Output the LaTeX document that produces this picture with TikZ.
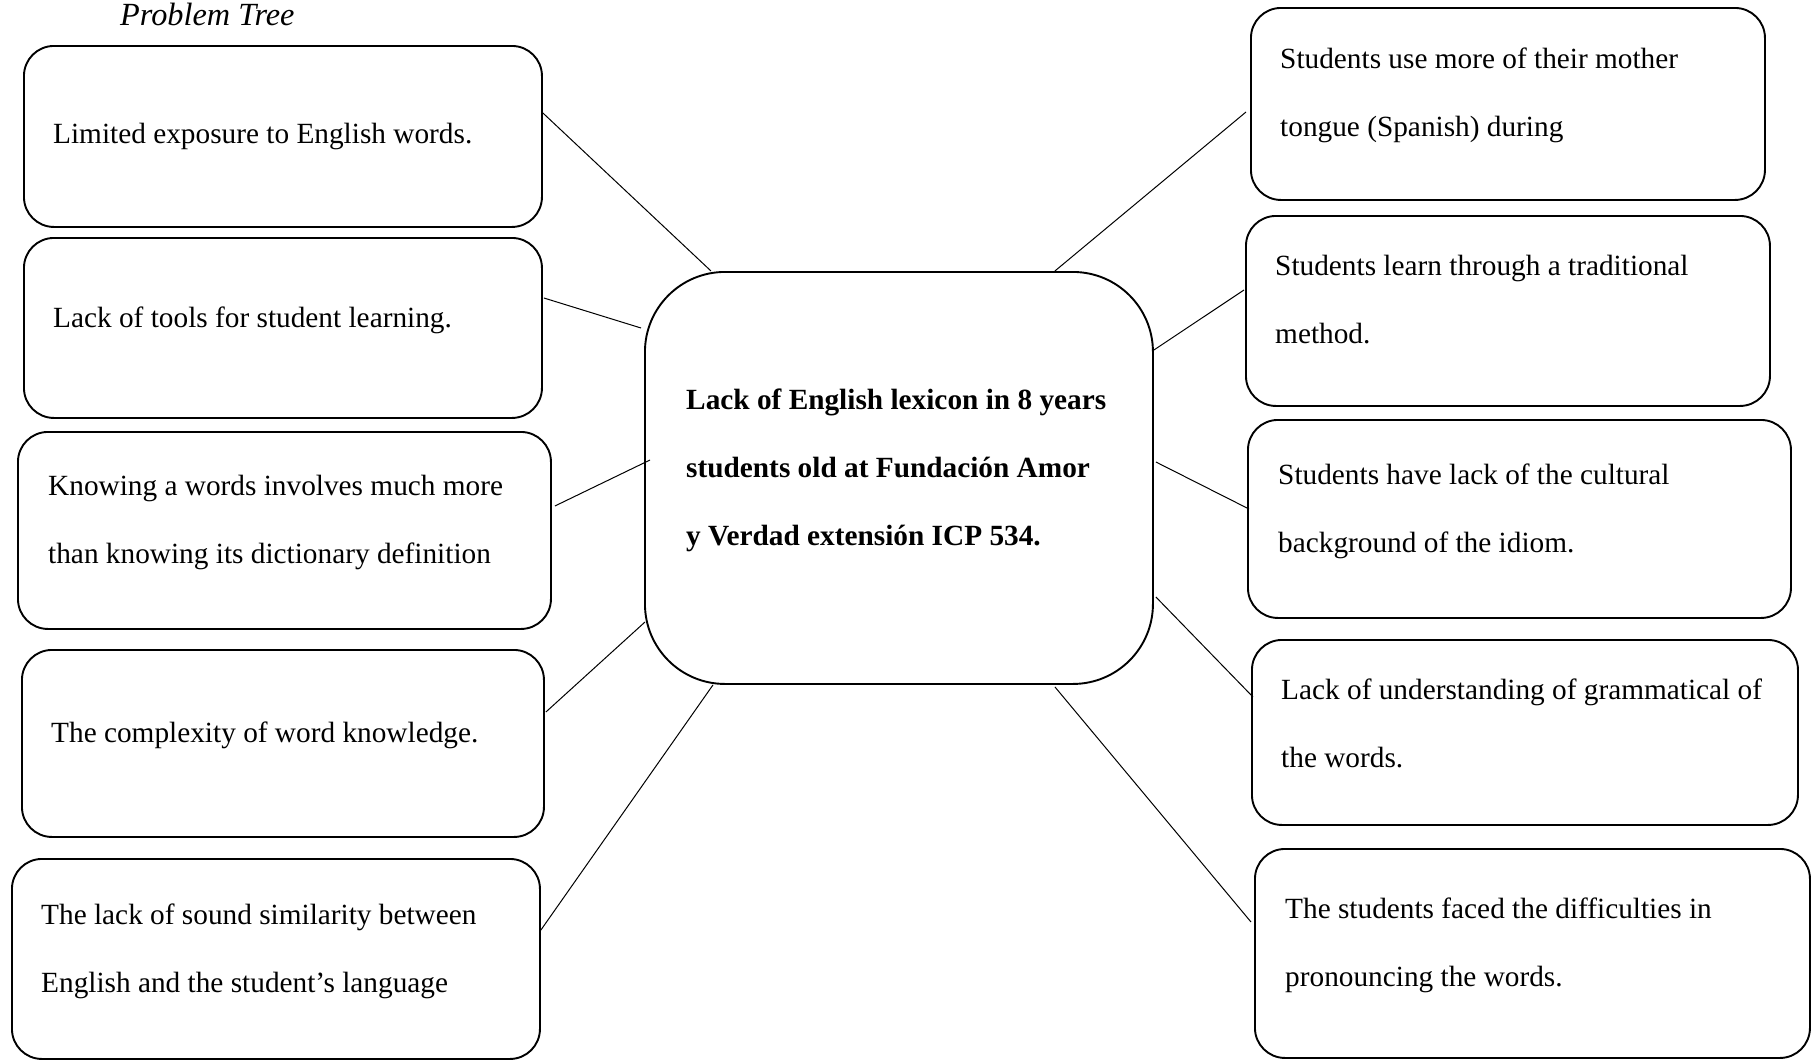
\documentclass[tikz,border=0pt]{standalone}
\usepackage{fontspec}
\setmainfont{Liberation Serif}
\usetikzlibrary{calc}
\newcommand{\bxtext}[1]{\parbox[t]{560pt}{\fontsize{29.3}{68}\selectfont\raggedright #1}}
\begin{document}
\begin{tikzpicture}[x=1pt,y=-1pt,
  box/.style={draw, line width=1.9pt, rounded corners=30pt, inner sep=0pt, anchor=north west},
  bigbox/.style={draw, line width=1.9pt, rounded corners=80pt, inner sep=0pt, anchor=north west},
  txt/.style={anchor=base west, inner sep=0pt, align=left},
  link/.style={line width=1pt}]
\useasboundingbox (0,0) rectangle (1813,1060);
% title
\node[txt, font=\fontsize{32.3}{38}\selectfont\itshape] (title) at (120,25) {Problem Tree};
% left boxes
\node[box, minimum width=518pt, minimum height=181pt] (L1) at (23,45) {};
\node[box, minimum width=518pt, minimum height=180pt] (L2) at (23,237) {};
\node[box, minimum width=533pt, minimum height=197pt] (L3) at (17,431) {};
\node[box, minimum width=522pt, minimum height=187pt] (L4) at (21,649) {};
\node[box, minimum width=528pt, minimum height=200pt] (L5) at (11,858) {};
% centre box
\node[bigbox, minimum width=508pt, minimum height=412pt] (C) at (644,271) {};
% right boxes
\node[box, minimum width=514pt, minimum height=192pt] (R1) at (1250,7) {};
\node[box, minimum width=524pt, minimum height=190pt] (R2) at (1245,215) {};
\node[box, minimum width=543pt, minimum height=198pt] (R3) at (1247,419) {};
\node[box, minimum width=546pt, minimum height=185pt] (R4) at (1251,639) {};
\node[box, minimum width=555pt, minimum height=209pt] (R5) at (1254,848) {};
% texts
\node[txt] (tL1) at (53,143) {\bxtext{Limited exposure to English words.}};
\node[txt] (tL2) at (53,327) {\bxtext{Lack of tools for student learning.}};
\node[txt] (tL3) at (48,495.5) {\bxtext{Knowing a words involves much more\\than knowing its dictionary definition}};
\node[txt] (tL4) at (51,742) {\bxtext{The complexity of word knowledge.}};
\node[txt] (tL5) at (41,924) {\bxtext{The lack of sound similarity between\\English and the student’s language}};
\node[txt] (tC) at (686,409) {\bxtext{\bfseries Lack of English lexicon in 8 years\\students old at Fundación Amor\\y Verdad extensión ICP 534.}};
\node[txt] (tR1) at (1280,68) {\bxtext{Students use more of their mother\\tongue (Spanish) during}};
\node[txt] (tR2) at (1275,275) {\bxtext{Students learn through a traditional\\method.}};
\node[txt] (tR3) at (1278,484) {\bxtext{Students have lack of the cultural\\background of the idiom.}};
\node[txt] (tR4) at (1281,699) {\bxtext{Lack of understanding of grammatical of\\the words.}};
\node[txt] (tR5) at (1285,918) {\bxtext{The students faced the difficulties in\\pronouncing the words.}};
% connectors
\draw[link] ($(L1.north east)+(0,68)$) -- ($(C.north west)+(67,0)$);
\draw[link] ($(L2.north east)+(1,61)$) -- ($(C.north west)+(-3,57)$);
\draw[link] ($(L3.north east)+(3,75)$) -- ($(C.north west)+(6,189)$);
\draw[link] ($(L4.north east)+(1,63)$) -- ($(C.north west)+(1,351)$);
\draw[link] ($(L5.north east)+(0,72)$) -- ($(C.south west)+(69,0)$);
\draw[link] ($(C.north east)+(-99,0)$) -- ($(R1.north west)+(-4,105)$);
\draw[link] ($(C.north east)+(0,79)$) -- ($(R2.north west)+(-1,75)$);
\draw[link] ($(C.north east)+(2,191)$) -- ($(R3.north west)+(2,90)$);
\draw[link] ($(C.north east)+(2,326)$) -- ($(R4.north west)+(2,58)$);
\draw[link] ($(C.south east)+(-99,2)$) -- ($(R5.north west)+(-3,74)$);
\end{tikzpicture}
\end{document}
